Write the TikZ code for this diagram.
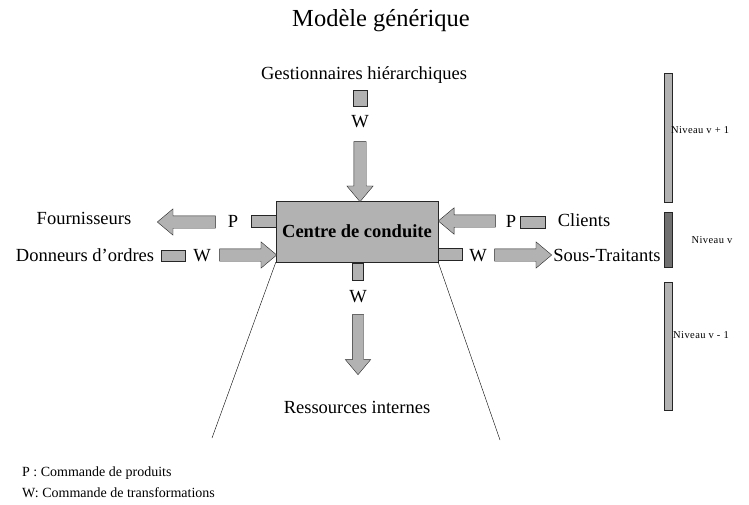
\documentclass[tikz,border=0pt]{standalone}
\usepackage{fontspec}
\setmainfont{Liberation Serif}
\newfontfamily\levelfont[LetterSpace=4]{Liberation Serif}
\usetikzlibrary{shapes.arrows}
\definecolor{boxgray}{RGB}{178,178,178}
\definecolor{darkbar}{RGB}{112,112,112}
\tikzset{
    blockarrow/.style={single arrow,draw=black!85,fill=boxgray,thin,inner xsep=0pt,inner ysep=6pt,
        single arrow head extend=7pt,single arrow head indent=0pt,
        single arrow tip angle=80},
    downarrow/.style={blockarrow,shape border rotate=270,inner xsep=6pt,inner ysep=0pt},
    tab/.style={rectangle,draw=black!85,fill=boxgray,thin,inner sep=0pt},
    levelbar/.style={rectangle,draw=black!85,thin,inner sep=0pt,minimum width=8pt}
}
\begin{document}
\begin{tikzpicture}[x=1pt,y=-1pt]
        \useasboundingbox (0,0) rectangle (749,505);
        \node (title) at (381,21) {\fontsize{24.5}{28}\selectfont Modèle générique};
        \begin{scope}[every node/.style={inner sep=0pt,font=\fontsize{18.5}{22}\selectfont}]
            \node (centre) [draw=black!85,fill=boxgray,minimum width=162pt,minimum height=61pt] at (357,231.5) {\bfseries Centre de conduite};
            \node (gest)   at (364,75)  {Gestionnaires hiérarchiques};
            \node (fourn)  at (84,218)  {Fournisseurs};
            \node (donn)   at (85,255)  {Donneurs d’ordres};
            \node (cli)    at (584,220) {Clients};
            \node (sous)   at (607,255) {Sous-Traitants};
            \node (ress)   at (357,407) {Ressources internes};
            \node (p1) at (233,221) {P};
            \node (p2) at (511,221) {P};
            \node (w1) at (360,122) {W};
            \node (w2) at (202,256) {W};
            \node (w3) at (478,256) {W};
            \node (w4) at (358,297) {W};
        \end{scope}
        % petits rectangles
        \begin{scope}[every node/.style={tab}]
            \node (t1) [minimum width=14pt,minimum height=16pt] at (360,98) {};
            \node (t2) [minimum width=25pt,minimum height=12pt] at (263.5,221) {};
            \node (t3) [minimum width=24pt,minimum height=11pt] at (173,255.5) {};
            \node (t4) [minimum width=25pt,minimum height=12pt] at (532.5,222) {};
            \node (t5) [minimum width=24pt,minimum height=12pt] at (450,254) {};
            \node (t6) [minimum width=11pt,minimum height=17pt] at (357.5,271.5) {};
        \end{scope}
        % fleches
        \begin{scope}[every node/.style={blockarrow}]
            \node (a1) [downarrow,minimum height=60pt,anchor=tip] at (360,202) {};
            \node (a2) [minimum height=58pt,shape border rotate=180,anchor=tip] at (157,222) {};
            \node (a3) [minimum height=57pt,anchor=tip] at (277,255) {};
            \node (a4) [minimum height=57pt,shape border rotate=180,anchor=tip] at (438,221) {};
            \node (a5) [minimum height=57pt,anchor=tip] at (552,255) {};
            \node (a6) [downarrow,minimum height=60pt,anchor=tip,inner xsep=5.5pt] at (358,375) {};
        \end{scope}
        % niveaux
        \begin{scope}[every node/.style={levelbar}]
            \node (n1) [fill=boxgray,minimum height=129pt] at (668,137.5) {};
            \node (n2) [fill=darkbar,minimum height=55pt] at (668,239.5) {};
            \node (n3) [fill=boxgray,minimum height=128pt] at (668,346) {};
        \end{scope}
        \begin{scope}[every node/.style={inner sep=0pt,font=\levelfont\fontsize{10.5}{12}\selectfont}]
            \node (l1) at (700,130) {Niveau v + 1};
            \node (l2) at (712,240) {Niveau v};
            \node (l3) at (701,335) {Niveau v - 1};
        \end{scope}
        \coordinate (bl) at (212,438);
        \coordinate (br) at (500,440);
        \draw [thin] (centre.south west) -- (bl);
        \draw [thin] (centre.south east) -- (br);
        % legende
        \begin{scope}[every node/.style={inner sep=0pt,anchor=west,font=\fontsize{14}{16}\selectfont}]
            \node (legp) at (22,473) {P : Commande de produits};
            \node (legw) at (22,493) {W: Commande de transformations};
        \end{scope}
    \end{tikzpicture}
\end{document}
